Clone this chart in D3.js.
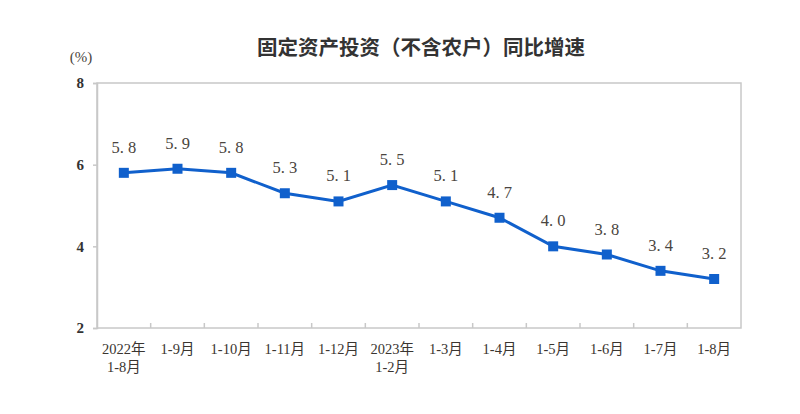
<!DOCTYPE html>
<html><head><meta charset="utf-8">
<script src="https://cdn.jsdelivr.net/npm/d3@7"></script>
<style>body{margin:0;background:#fff;}</style>
</head><body>
<svg id="c" width="800" height="414"></svg>
<script>
const categories = [["2022年","1-8月"],["1-9月"],["1-10月"],["1-11月"],["1-12月"],["2023年","1-2月"],["1-3月"],["1-4月"],["1-5月"],["1-6月"],["1-7月"],["1-8月"]];
const values = [5.8,5.9,5.8,5.3,5.1,5.5,5.1,4.7,4.0,3.8,3.4,3.2];
const yTicks = [2,4,6,8];
const title = "固定资产投资（不含农户）同比增速";
const unit = "(%)";

const svg = d3.select("#c");
const L=97,R=741,T=83,B=328;
const serif = "'Liberation Serif','Noto Sans CJK SC',serif";
const x = d3.scaleBand().domain(d3.range(categories.length)).range([L,R]);
const y = d3.scaleLinear().domain([2,8]).range([B,T]);

svg.append("rect").attr("x",L).attr("y",T).attr("width",R-L).attr("height",B-T)
  .attr("fill","none").attr("stroke","#c8c8c8").attr("stroke-width",1.5);

// y axis
const ya = svg.append("g").attr("transform",`translate(${L},0)`)
  .call(d3.axisLeft(y).tickValues(yTicks).tickSize(4).tickFormat(d3.format("d")));
ya.select(".domain").attr("stroke","#c8c8c8").attr("stroke-width",1.5);
ya.selectAll(".tick line").attr("stroke","#c8c8c8").attr("stroke-width",1.5);
ya.selectAll(".tick text").attr("font-family",serif).attr("font-size",15).attr("font-weight","bold")
  .attr("fill","#333").attr("x",-13);

// x axis ticks (boundaries, inward)
const bounds = d3.range(1,categories.length).map(i=>x(i));
svg.append("g").selectAll("line").data(bounds).join("line")
  .attr("x1",d=>d).attr("x2",d=>d).attr("y1",B).attr("y2",B-5)
  .attr("stroke","#c8c8c8").attr("stroke-width",1.5);

// x labels
const xl = svg.append("g").selectAll("text").data(categories).join("text")
  .attr("x",(d,i)=>x(i)+x.bandwidth()/2).attr("y",354)
  .attr("text-anchor","middle").attr("font-family",serif).attr("font-size",14.5).attr("fill","#3a3530");
xl.each(function(d){
  const t=d3.select(this);
  d.forEach((s,k)=>t.append("tspan").attr("x",t.attr("x")).attr("dy",k?18:0).text(s));
});

// line
const cx = i=>x(i)+x.bandwidth()/2;
svg.append("path").datum(values)
  .attr("d",d3.line().x((d,i)=>cx(i)).y(d=>y(d)))
  .attr("fill","none").attr("stroke","#1060cc").attr("stroke-width",3);
svg.append("g").selectAll("rect").data(values).join("rect")
  .attr("x",(d,i)=>cx(i)-5).attr("y",d=>y(d)-5).attr("width",10).attr("height",10)
  .attr("fill","#1060cc");

// value labels
svg.append("g").selectAll("text").data(values).join("text")
  .attr("x",(d,i)=>cx(i)).attr("y",d=>y(d)-20)
  .attr("text-anchor","middle").attr("font-family",serif).attr("font-size",16.5)
  .attr("fill","#4a4540").text(d=>d.toFixed(1).replace(".",". "));

// title
svg.append("text").attr("x",421).attr("y",55).attr("text-anchor","middle")
  .attr("font-family","'Noto Sans CJK SC',sans-serif").attr("font-size",20.5).attr("font-weight","bold")
  .attr("fill","#333").text(title);
svg.append("text").attr("x",81).attr("y",62).attr("text-anchor","middle")
  .attr("font-family",serif).attr("font-size",15).attr("fill","#4a4540").text(unit);
</script>
</body></html>
